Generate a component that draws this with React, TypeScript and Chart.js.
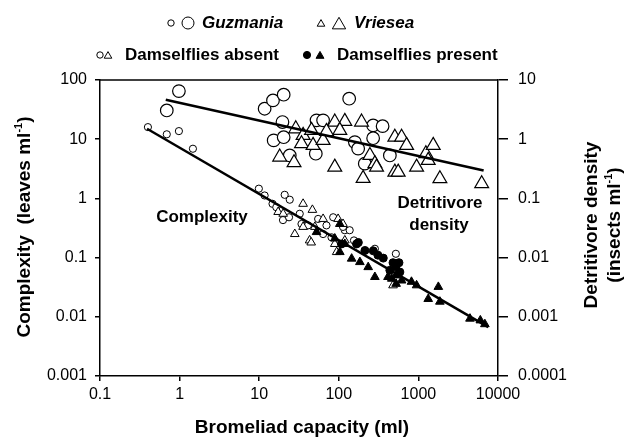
import React, { useEffect, useRef } from "react";
import { Chart, registerables } from "chart.js";

Chart.register(...registerables);

const FONT = "'Liberation Sans', Arial, Helvetica, sans-serif";

// Axis ticks
const xTickValues = [0.1, 1, 10, 100, 1000, 10000];
const xTickLabels = ["0.1", "1", "10", "100", "1000", "10000"];
const leftTickValues = [0.001, 0.01, 0.1, 1, 10, 100];
const leftTickLabels = ["0.001", "0.01", "0.1", "1", "10", "100"];
const rightTickValues = [0.0001, 0.001, 0.01, 0.1, 1, 10];
const rightTickLabels = ["0.0001", "0.001", "0.01", "0.1", "1", "10"];

// Detritivore density (right axis), large markers: [capacity ml, insects/ml]
const guzmaniaDensity: [number, number][] = [
  [0.98, 6.49], [0.69, 3.06], [11.7, 3.27], [14.9, 4.52], [20.3, 5.65], [135, 4.83],
  [19.6, 1.95], [15.2, 0.955], [20.3, 1.08], [24.2, 0.532], [51.4, 0.569], [52.5, 2.08],
  [63.5, 2.08], [270, 1.71], [355, 1.66], [159, 0.893], [175, 0.692], [270, 1.04],
  [212, 0.386], [438, 0.532],
];
const vrieseaDensity: [number, number][] = [
  [18.1, 0.499], [27.4, 0.401], [28.8, 1.5], [35.6, 1.16], [34, 0.84], [47.5, 0.786],
  [45.4, 1.41], [63.5, 0.955], [89, 1.95], [119, 2.0], [103, 1.41], [89, 0.338],
  [193, 1.95], [246, 0.532], [284, 0.386], [202, 0.218], [298, 0.338], [506, 0.278],
  [557, 0.278], [506, 1.08], [615, 1.08], [711, 0.786], [949, 0.338], [1242, 0.569],
  [1328, 0.439], [1535, 0.786], [1862, 0.215], [6240, 0.177], [70, 1.35],
];

// Complexity (left axis), small markers: [capacity ml, leaves/ml]
const guzmaniaAbsent: [number, number][] = [
  [0.4, 16], [0.69, 12.1], [0.98, 13.7], [1.47, 6.9], [9.9, 1.46], [11.7, 1.12],
  [20.9, 1.15], [24.2, 0.95], [14.7, 0.81], [16.4, 0.71], [19.9, 0.43], [23.7, 0.48],
  [32.3, 0.55], [34, 0.37], [41, 0.35], [70, 0.35], [63.5, 0.25], [119, 0.29],
  [81, 0.22], [85, 0.48], [113, 0.33], [155, 0.195], [284, 0.141], [521, 0.116],
  [55, 0.45], [137, 0.29],
];
const vrieseaAbsent: [number, number][] = [
  [35.6, 0.81], [46.6, 0.64], [98, 0.45], [63.5, 0.45], [28, 0.25], [35.6, 0.33],
  [43, 0.195], [89, 0.17], [94, 0.124], [113, 0.37], [50, 0.33], [480, 0.034],
  [17.3, 0.59], [20, 0.55], [45, 0.18], [119, 0.195],
];
const guzmaniaPresent: [number, number][] = [
  [108, 0.17], [167, 0.17], [213, 0.132], [271, 0.13], [362, 0.098], [480, 0.082],
  [570, 0.082], [438, 0.061], [585, 0.057], [310, 0.11], [176, 0.18], [520, 0.07],
];
const vrieseaPresent: [number, number][] = [
  [103, 0.37], [52.5, 0.27], [89, 0.21], [103, 0.124], [119, 0.17], [145, 0.096],
  [184, 0.084], [234, 0.069], [284, 0.047], [463, 0.044], [415, 0.047], [615, 0.041],
  [818, 0.039], [949, 0.034], [1328, 0.02], [1780, 0.032], [1862, 0.018], [4446, 0.0093],
  [6000, 0.0087], [6840, 0.0075], [520, 0.05], [525, 0.036],
];

// Regression lines
const complexityFit: [number, number][] = [[0.39, 15], [7540, 0.0067]];
const densityFit: [number, number][] = [[0.67, 4.65], [6600, 0.297]];

const pts = (a: [number, number][]) => a.map(([x, y]) => ({ x, y }));

function drawMarker(ctx: CanvasRenderingContext2D, style: string, x: number, y: number, r: number, filled: boolean) {
  ctx.beginPath();
  if (style === "circle") {
    ctx.arc(x, y, r, 0, Math.PI * 2);
  } else {
    let rad = 0;
    ctx.moveTo(x + Math.sin(rad) * r, y - Math.cos(rad) * r);
    rad += (2 * Math.PI) / 3;
    ctx.lineTo(x + Math.sin(rad) * r, y - Math.cos(rad) * r);
    rad += (2 * Math.PI) / 3;
    ctx.lineTo(x + Math.sin(rad) * r, y - Math.cos(rad) * r);
    ctx.closePath();
  }
  ctx.fillStyle = filled ? "#000" : "#fff";
  ctx.fill();
  ctx.lineWidth = 1;
  ctx.strokeStyle = "#000";
  ctx.stroke();
}

type Part = { t: string; sup?: boolean };
function drawRich(ctx: CanvasRenderingContext2D, parts: Part[], cx: number, cy: number, size: number) {
  const main = `bold ${size}px ${FONT}`;
  const sup = `bold ${Math.round(size * 0.6)}px ${FONT}`;
  let total = 0;
  const widths = parts.map((p) => {
    ctx.font = p.sup ? sup : main;
    const w = ctx.measureText(p.t).width;
    total += w;
    return w;
  });
  let x = cx - total / 2;
  ctx.textAlign = "left";
  ctx.textBaseline = "middle";
  parts.forEach((p, i) => {
    ctx.font = p.sup ? sup : main;
    ctx.fillText(p.t, x, p.sup ? cy - size * 0.33 : cy);
    x += widths[i];
  });
}

const overlay = {
  id: "overlay",
  afterDraw(chart: any) {
    const ctx: CanvasRenderingContext2D = chart.ctx;
    const a = chart.chartArea;
    ctx.save();
    // top frame line
    ctx.strokeStyle = "#000";
    ctx.lineWidth = 1.5;
    ctx.beginPath();
    ctx.moveTo(a.left, a.top);
    ctx.lineTo(a.right, a.top);
    ctx.stroke();

    ctx.fillStyle = "#000";
    // Legend line 1
    drawMarker(ctx, "circle", 171, 23, 3.2, false);
    drawMarker(ctx, "circle", 188, 23, 6, false);
    ctx.fillStyle = "#000";
    ctx.font = `italic bold 17px ${FONT}`;
    ctx.textAlign = "left";
    ctx.textBaseline = "middle";
    ctx.fillText("Guzmania", 202, 23);
    drawMarker(ctx, "triangle", 321, 24, 4.4, false);
    drawMarker(ctx, "triangle", 339, 25, 7.7, false);
    ctx.fillStyle = "#000";
    ctx.font = `italic bold 17px ${FONT}`;
    ctx.fillText("Vriesea", 354, 23);

    // Legend line 2
    drawMarker(ctx, "circle", 100, 55, 3.2, false);
    drawMarker(ctx, "triangle", 108, 56, 4.4, false);
    ctx.fillStyle = "#000";
    ctx.font = `bold 17px ${FONT}`;
    ctx.fillText("Damselflies absent", 125, 55);
    drawMarker(ctx, "circle", 307, 55, 3.6, true);
    drawMarker(ctx, "triangle", 320, 56, 4.6, true);
    ctx.fillStyle = "#000";
    ctx.font = `bold 17px ${FONT}`;
    ctx.fillText("Damselflies present", 337, 55);

    // Annotations
    ctx.textAlign = "center";
    ctx.fillText("Complexity", 202, 217);
    ctx.fillText("Detritivore", 440, 203);
    ctx.fillText("density", 439, 225);

    // Axis titles
    drawRich(ctx, [{ t: "Bromeliad capacity (ml)" }], 302, 428, 19);

    ctx.save();
    ctx.translate(25, 227);
    ctx.rotate(-Math.PI / 2);
    drawRich(ctx, [{ t: "Complexity  (leaves ml" }, { t: "-1", sup: true }, { t: ")" }], 0, 0, 19);
    ctx.restore();

    ctx.save();
    ctx.translate(592, 225);
    ctx.rotate(-Math.PI / 2);
    drawRich(ctx, [{ t: "Detritivore density" }], 0, 0, 19);
    drawRich(ctx, [{ t: "(insects ml" }, { t: "-1", sup: true }, { t: ")" }], 0, 23, 19);
    ctx.restore();

    ctx.restore();
  },
};

export default function App() {
  const ref = useRef<HTMLCanvasElement | null>(null);
  useEffect(() => {
    if (!ref.current) return;
    const tickFont = { family: FONT, size: 16 };
    const gridCommon = { drawOnChartArea: false, drawTicks: true, color: "#000", lineWidth: 1.5 };
    const border = { display: true, color: "#000", width: 1.5 };
    const chart = new Chart(ref.current, {
      type: "scatter",
      data: {
        datasets: [
          {
            label: "Complexity fit",
            data: pts(complexityFit),
            showLine: true,
            borderColor: "#000",
            borderWidth: 2.5,
            pointRadius: 0,
            yAxisID: "y",
          },
          {
            label: "Density fit",
            data: pts(densityFit),
            showLine: true,
            borderColor: "#000",
            borderWidth: 2.5,
            pointRadius: 0,
            yAxisID: "y2",
          },
          {
            label: "Vriesea present",
            data: pts(vrieseaPresent),
            pointStyle: "triangle",
            pointRadius: 5,
            backgroundColor: "#000",
            borderColor: "#000",
            borderWidth: 1,
            yAxisID: "y",
          },
          {
            label: "Guzmania present",
            data: pts(guzmaniaPresent),
            pointStyle: "circle",
            pointRadius: 4,
            backgroundColor: "#000",
            borderColor: "#000",
            borderWidth: 1,
            yAxisID: "y",
          },
          {
            label: "Vriesea absent",
            data: pts(vrieseaAbsent),
            pointStyle: "triangle",
            pointRadius: 5,
            backgroundColor: "#fff",
            borderColor: "#000",
            borderWidth: 1,
            yAxisID: "y",
          },
          {
            label: "Guzmania absent",
            data: pts(guzmaniaAbsent),
            pointStyle: "circle",
            pointRadius: 3.6,
            backgroundColor: "#fff",
            borderColor: "#000",
            borderWidth: 1,
            yAxisID: "y",
          },
          {
            label: "Vriesea density",
            data: pts(vrieseaDensity),
            pointStyle: "triangle",
            pointRadius: 8,
            backgroundColor: "#fff",
            borderColor: "#000",
            borderWidth: 1.2,
            yAxisID: "y2",
          },
          {
            label: "Guzmania density",
            data: pts(guzmaniaDensity),
            pointStyle: "circle",
            pointRadius: 6.3,
            backgroundColor: "#fff",
            borderColor: "#000",
            borderWidth: 1.2,
            yAxisID: "y2",
          },
        ],
      },
      options: {
        animation: false,
        responsive: false,
        devicePixelRatio: 1,
        events: [],
        layout: { padding: { top: 80, left: 0, right: 0, bottom: 0 } },
        plugins: { legend: { display: false }, tooltip: { enabled: false } },
        scales: {
          x: {
            type: "logarithmic",
            position: "bottom",
            min: 0.1,
            max: 10000,
            afterBuildTicks: (s: any) => {
              s.ticks = xTickValues.map((v) => ({ value: v }));
            },
            afterFit: (s: any) => {
              s.height = 61;
            },
            ticks: {
              font: tickFont,
              color: "#000",
              padding: 4,
              maxRotation: 0,
              autoSkip: false,
              callback: (_v: any, i: number) => xTickLabels[i],
            },
            grid: { ...gridCommon, tickLength: 5 },
            border,
          },
          y: {
            type: "logarithmic",
            position: "left",
            min: 0.001,
            max: 100,
            afterBuildTicks: (s: any) => {
              s.ticks = leftTickValues.map((v) => ({ value: v }));
            },
            afterFit: (s: any) => {
              s.width = 100;
            },
            ticks: {
              font: tickFont,
              color: "#000",
              padding: 8,
              autoSkip: false,
              callback: (_v: any, i: number) => leftTickLabels[i],
            },
            grid: { ...gridCommon, tickLength: 5 },
            border,
          },
          y2: {
            type: "logarithmic",
            position: "right",
            min: 0.0001,
            max: 10,
            afterBuildTicks: (s: any) => {
              s.ticks = rightTickValues.map((v) => ({ value: v }));
            },
            afterFit: (s: any) => {
              s.width = 134;
            },
            ticks: {
              font: tickFont,
              color: "#000",
              padding: 10,
              autoSkip: false,
              callback: (_v: any, i: number) => rightTickLabels[i],
            },
            grid: { ...gridCommon, tickLength: 10 },
            border,
          },
        },
      },
      plugins: [overlay],
    } as any);
    return () => chart.destroy();
  }, []);

  return (
    <div style={{ position: "absolute", left: 0, top: 0, width: 632, height: 437, background: "#fff" }}>
      <canvas ref={ref} width={632} height={437} />
    </div>
  );
}
